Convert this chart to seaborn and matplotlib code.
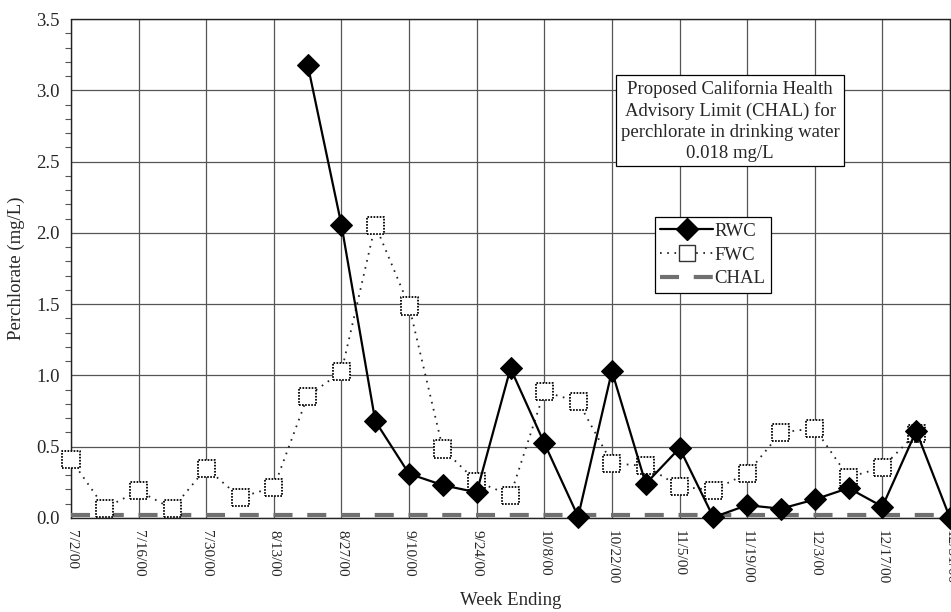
import numpy as np
import pandas as pd
import matplotlib
matplotlib.use("Agg")
import matplotlib.pyplot as plt
import seaborn as sns
from matplotlib.lines import Line2D

# weekly sampling dates (week ending)
week_ending = ["7/2/00", "7/9/00", "7/16/00", "7/23/00", "7/30/00", "8/6/00",
               "8/13/00", "8/20/00", "8/27/00", "9/3/00", "9/10/00", "9/17/00",
               "9/24/00", "10/1/00", "10/8/00", "10/15/00", "10/22/00", "10/29/00",
               "11/5/00", "11/12/00", "11/19/00", "11/26/00", "12/3/00", "12/10/00",
               "12/17/00", "12/24/00", "12/31/00"]

nan = np.nan
rwc = [nan, nan, nan, nan, nan, nan, nan,
       3.18, 2.055, 0.68, 0.31, 0.23, 0.18, 1.05, 0.525, 0.01, 1.03, 0.24,
       0.49, 0.005, 0.09, 0.065, 0.13, 0.21, 0.08, 0.61, 0.0]
fwc = [0.41, 0.07, 0.19, 0.065, 0.35, 0.145, 0.215, 0.855, 1.025, 2.055,
       1.487, 0.484, 0.255, 0.16, 0.886, 0.816, 0.384, 0.365, 0.22, 0.196,
       0.313, 0.60, 0.629, 0.285, 0.355, 0.594, nan]
chal_limit = 0.018

dates = pd.to_datetime(week_ending, format="%m/%d/%y")
df = pd.DataFrame({"week": dates, "RWC": rwc, "FWC": fwc, "CHAL": chal_limit})

sns.set_style("white")
plt.rcParams["font.family"] = ["Liberation Serif", "DejaVu Serif"]
plt.rcParams["lines.scale_dashes"] = False

fig = plt.figure(figsize=(9.51, 6.12), dpi=100)
ax = fig.add_axes([71 / 951, 94 / 612, 879 / 951, 499 / 612])

chal_style = dict(color="#707070", lw=3.0, linestyle=(0, (13.7, 10.6)))
fwc_style = dict(color="#222222", lw=1.3, linestyle=(0, (1.2, 4.0)))

# CHAL limit line
sns.lineplot(data=df, x="week", y="CHAL", ax=ax, clip_on=False, zorder=3,
             **chal_style)
# FWC: dotted line + dotted-edge squares
sns.lineplot(data=df, x="week", y="FWC", ax=ax, zorder=4, **fwc_style)
sns.scatterplot(data=df, x="week", y="FWC", ax=ax, marker="s", s=150,
                facecolor="white", edgecolor="black", linewidth=1.3,
                linestyle=(0, (1.2, 1.0)), clip_on=False, zorder=5)
# RWC: solid line with black diamonds
sns.lineplot(data=df, x="week", y="RWC", ax=ax, color="black", lw=1.6,
             marker="D", markersize=11.5, markerfacecolor="black",
             markeredgecolor="black", clip_on=False, zorder=6)

ax.set_xlim(dates[0], dates[-1])
ax.set_ylim(0, 3.5)

ax.set_xticks(dates[::2])
ax.set_xticklabels(week_ending[::2], rotation=-90, fontsize=11)
ax.set_xticks(dates, minor=True)
ax.set_yticks(np.arange(0, 3.51, 0.5))
ax.set_yticklabels([f"{v:.1f}" for v in np.arange(0, 3.51, 0.5)], fontsize=13.5)
ax.set_yticks(np.arange(0, 3.51, 0.1), minor=True)

ax.tick_params(axis="x", which="both", direction="out", length=5, width=0.8,
               color="#333333", pad=4)
ax.tick_params(axis="y", which="major", direction="out", length=5, width=0.8,
               color="#333333", pad=3)
ax.tick_params(axis="y", which="minor", direction="out", length=4, width=0.8,
               color="#555555", left=True)

ax.grid(True, which="major", color="#555555", lw=0.9)
ax.set_axisbelow(True)

for side in ["top", "left", "bottom", "right"]:
    ax.spines[side].set_linestyle((0, (1, 1)))
    ax.spines[side].set_color("#222222")
    ax.spines[side].set_linewidth(1.0)

ax.set_xlabel("Week Ending", fontsize=13.5, labelpad=5)
ax.set_ylabel("Perchlorate (mg/L)", fontsize=13.5, labelpad=8)

ax.text(0.75, 0.796,
        "Proposed California Health\nAdvisory Limit (CHAL) for\n"
        "perchlorate in drinking water\n0.018 mg/L",
        transform=ax.transAxes, ha="center", va="center", fontsize=13.5,
        linespacing=1.3, zorder=10,
        bbox=dict(boxstyle="square,pad=0.25", fc="white", ec="black", lw=0.9))

handles = [
    Line2D([], [], color="black", lw=1.6, marker="D", markersize=11.5,
           markerfacecolor="black"),
    Line2D([], [], marker="s", markersize=11, markerfacecolor="white",
           markeredgecolor="#333333", markeredgewidth=1.0, **fwc_style),
    Line2D([], [], **chal_style),
]
leg = ax.legend(handles, ["RWC", "FWC", "CHAL"],
                loc="upper left", bbox_to_anchor=(0.664, 0.603),
                borderaxespad=0, fontsize=13.5, frameon=True, fancybox=False,
                edgecolor="black", framealpha=1, handlelength=2.8,
                handletextpad=0.1, labelspacing=0.35, borderpad=0.3)
leg.get_frame().set_linewidth(0.9)
leg.set_zorder(10)

fig.savefig("out.png", dpi=100)
